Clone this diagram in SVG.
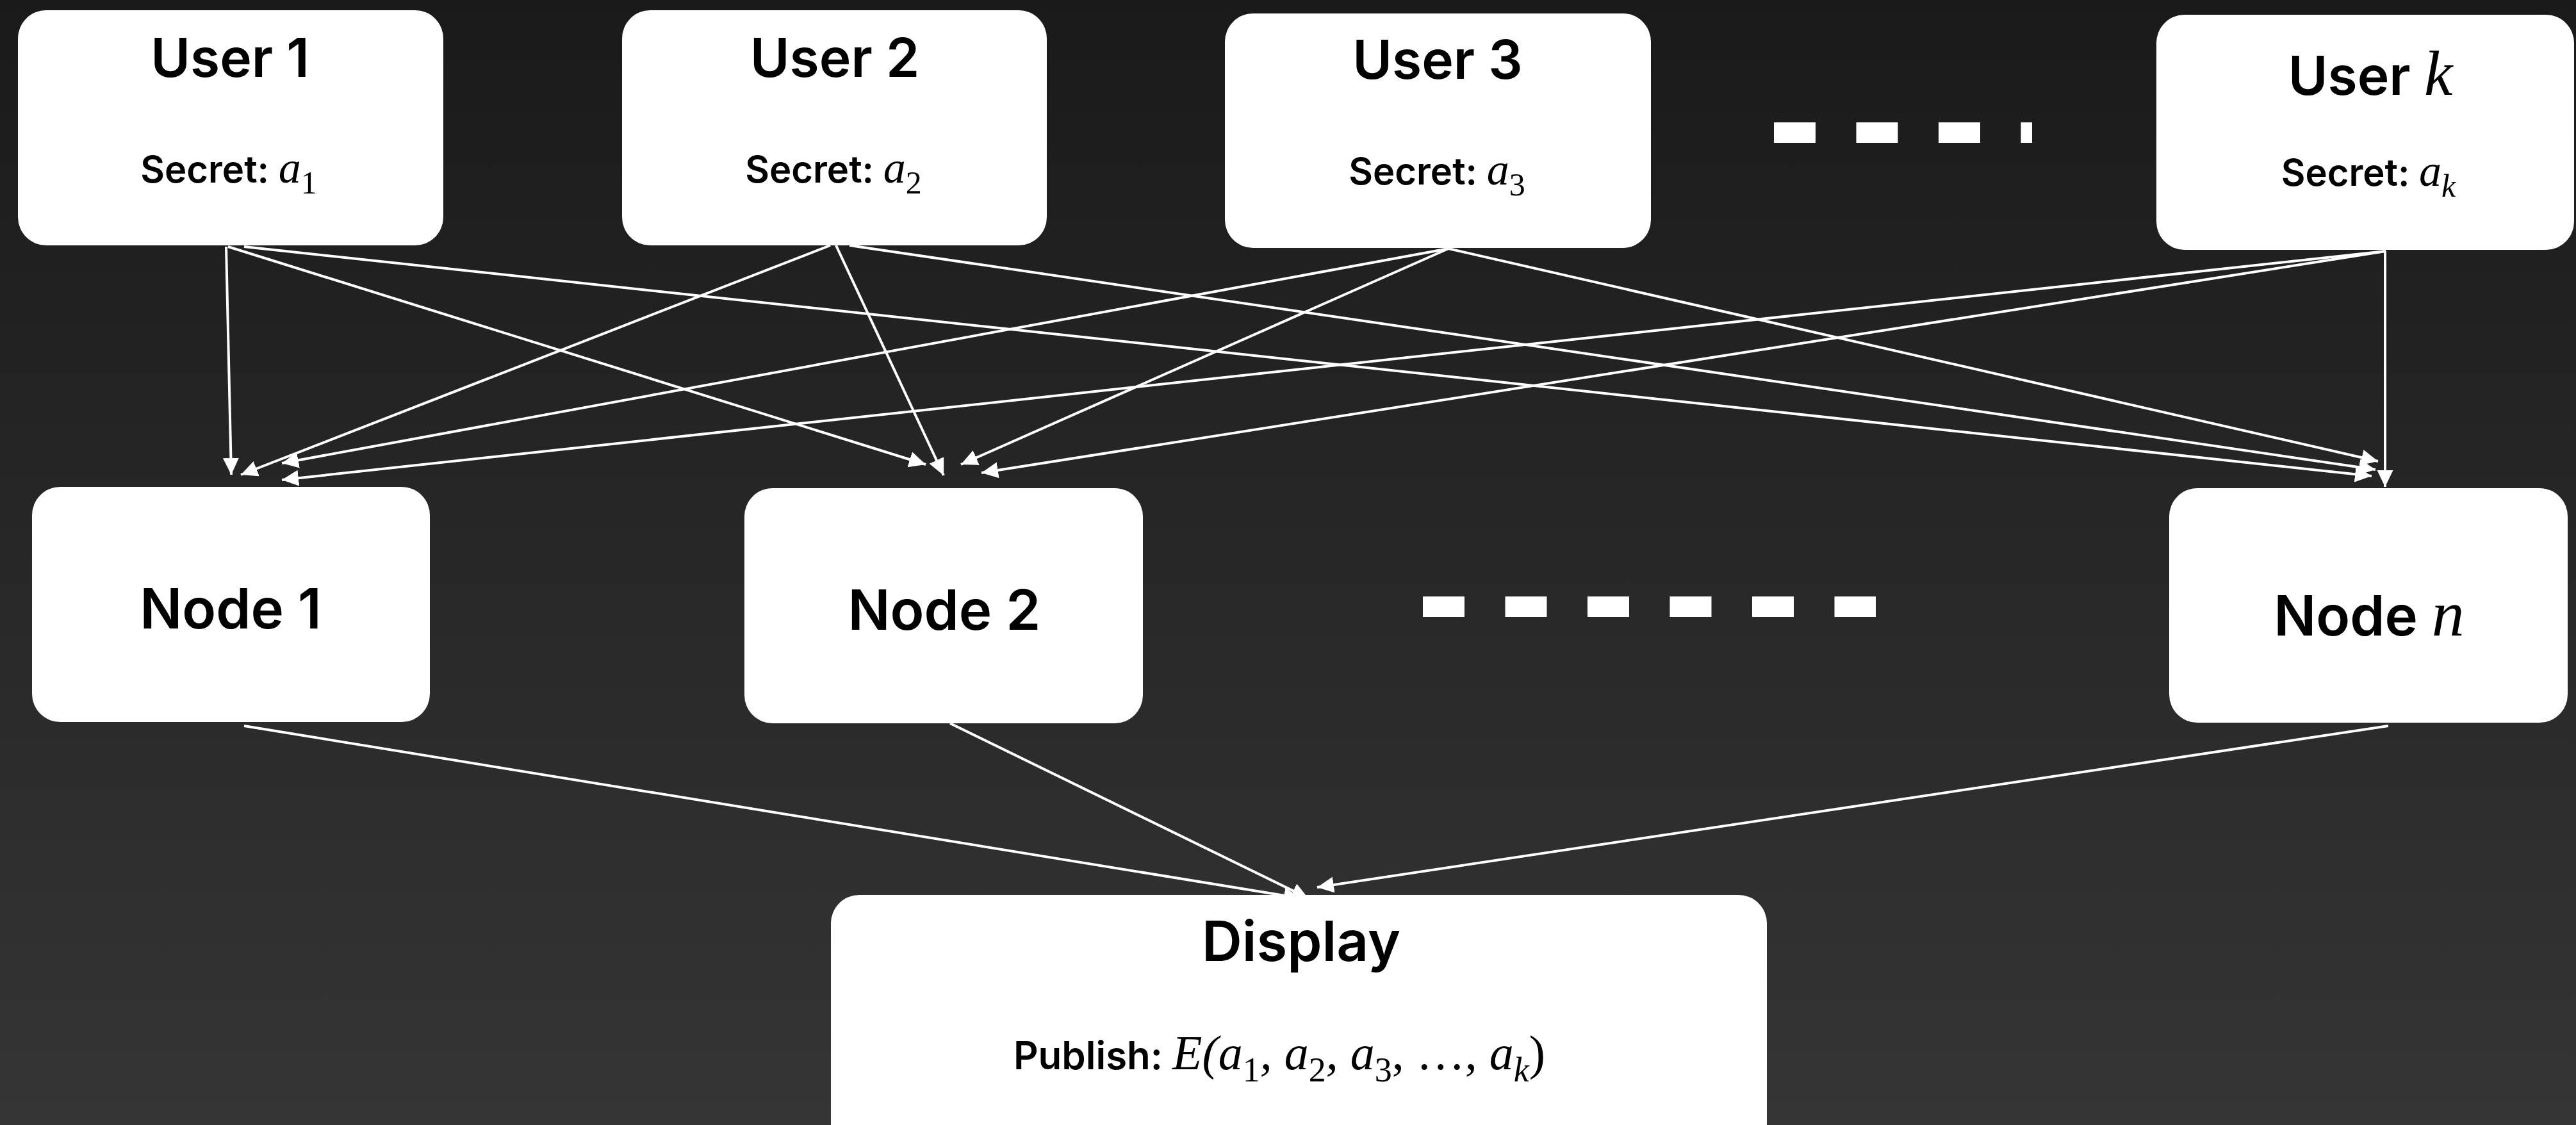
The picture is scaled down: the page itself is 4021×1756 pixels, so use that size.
<svg xmlns="http://www.w3.org/2000/svg" width="4021" height="1756" viewBox="0 0 4021 1756">
<defs>
<linearGradient id="bg" x1="0" y1="0" x2="0" y2="1">
<stop offset="0" stop-color="#1a1a1a"/>
<stop offset="1" stop-color="#353535"/>
</linearGradient>
<marker id="ah" markerUnits="userSpaceOnUse" markerWidth="28" markerHeight="26" refX="26" refY="12.5" orient="auto">
<path d="M0,0 L26,12.5 L0,25 z" fill="#ffffff"/>
</marker>
</defs>
<style>
.box{fill:#ffffff}
.t{font-family:Inter,"Liberation Sans",sans-serif;font-weight:600;fill:#000;text-anchor:middle}
.title{font-size:84px}
.ntitle{font-size:87px}
.sec{font-size:58px}
.pub{font-size:60px}
.m{font-family:"Liberation Serif",serif;font-style:italic;font-weight:400}
.mu{font-family:"Liberation Serif",serif;font-style:normal;font-weight:400}
.conn line{stroke:#ffffff;stroke-width:4;fill:none;marker-end:url(#ah)}
.dash{stroke:#ffffff;stroke-width:32;stroke-dasharray:65 63.5;fill:none}
</style>
<rect x="0" y="0" width="4021" height="1756" fill="url(#bg)"/>

<g id="connectors" class="conn">
<line x1="353" y1="385" x2="361" y2="741"/>
<line x1="356" y1="385" x2="1445" y2="725"/>
<line x1="381" y1="385" x2="3702" y2="743"/>
<line x1="1296" y1="383" x2="376" y2="741"/>
<line x1="1305" y1="383" x2="1473" y2="742"/>
<line x1="1326" y1="383" x2="3708" y2="733"/>
<line x1="2261" y1="388" x2="440" y2="723"/>
<line x1="2261" y1="388" x2="1500" y2="725"/>
<line x1="2261" y1="388" x2="3712" y2="720"/>
<line x1="3724" y1="392" x2="440" y2="749"/>
<line x1="3724" y1="392" x2="1532" y2="738"/>
<line x1="3723" y1="392" x2="3723" y2="760"/>
<line x1="381" y1="1133" x2="2030" y2="1402"/>
<line x1="1483" y1="1129" x2="2042" y2="1402"/>
<line x1="3728" y1="1133" x2="2056" y2="1385"/>
</g>

<g id="ellipsis-users">
<line class="dash" x1="2769" y1="207" x2="3172" y2="207"/>
</g>
<g id="ellipsis-nodes">
<line class="dash" x1="2221" y1="947" x2="2928" y2="947"/>
</g>

<g id="user1">
<rect class="box" x="28" y="16" width="664" height="367" rx="44"/>
<text class="t title" x="359" y="120">User 1</text>
<text class="t sec" x="357" y="285">Secret: <tspan class="m" font-size="70">a</tspan><tspan class="mu" font-size="50" dy="17">1</tspan></text>
</g>
<g id="user2">
<rect class="box" x="971" y="16" width="663" height="367" rx="44"/>
<text class="t title" x="1303" y="120">User 2</text>
<text class="t sec" x="1301" y="285">Secret: <tspan class="m" font-size="70">a</tspan><tspan class="mu" font-size="50" dy="17">2</tspan></text>
</g>
<g id="user3">
<rect class="box" x="1912" y="21" width="665" height="366" rx="44"/>
<text class="t title" x="2244" y="123">User 3</text>
<text class="t sec" x="2243" y="288">Secret: <tspan class="m" font-size="70">a</tspan><tspan class="mu" font-size="50" dy="17">3</tspan></text>
</g>
<g id="userk">
<rect class="box" x="3366" y="23" width="652" height="367" rx="44"/>
<text class="t title" x="3700" y="148">User <tspan class="m" font-size="100">k</tspan></text>
<text class="t sec" x="3697" y="290">Secret: <tspan class="m" font-size="70">a</tspan><tspan class="m" font-size="50" dy="17">k</tspan></text>
</g>

<g id="node1">
<rect class="box" x="50" y="760" width="621" height="367" rx="44"/>
<text class="t ntitle" x="360" y="981">Node 1</text>
</g>
<g id="node2">
<rect class="box" x="1162" y="762" width="622" height="367" rx="44"/>
<text class="t ntitle" x="1474" y="983">Node 2</text>
</g>
<g id="noden">
<rect class="box" x="3386" y="762" width="622" height="366" rx="44"/>
<text class="t ntitle" x="3698" y="992">Node <tspan class="m" font-size="102">n</tspan></text>
</g>

<g id="display">
<rect class="box" x="1297" y="1397" width="1461" height="400" rx="44"/>
<text class="t ntitle" x="2031" y="1500">Display</text>
<text class="t pub" x="1997" y="1669">Publish: <tspan class="m" font-size="76">E(a</tspan><tspan class="mu" font-size="54" dy="19">1</tspan><tspan class="m" font-size="76" dy="-19">, a</tspan><tspan class="mu" font-size="54" dy="19">2</tspan><tspan class="m" font-size="76" dy="-19">, a</tspan><tspan class="mu" font-size="54" dy="19">3</tspan><tspan class="mu" font-size="76" dy="-19">, …, </tspan><tspan class="m" font-size="76">a</tspan><tspan class="m" font-size="54" dy="19">k</tspan><tspan class="mu" font-size="76" dy="-19">)</tspan></text>
</g>
</svg>
